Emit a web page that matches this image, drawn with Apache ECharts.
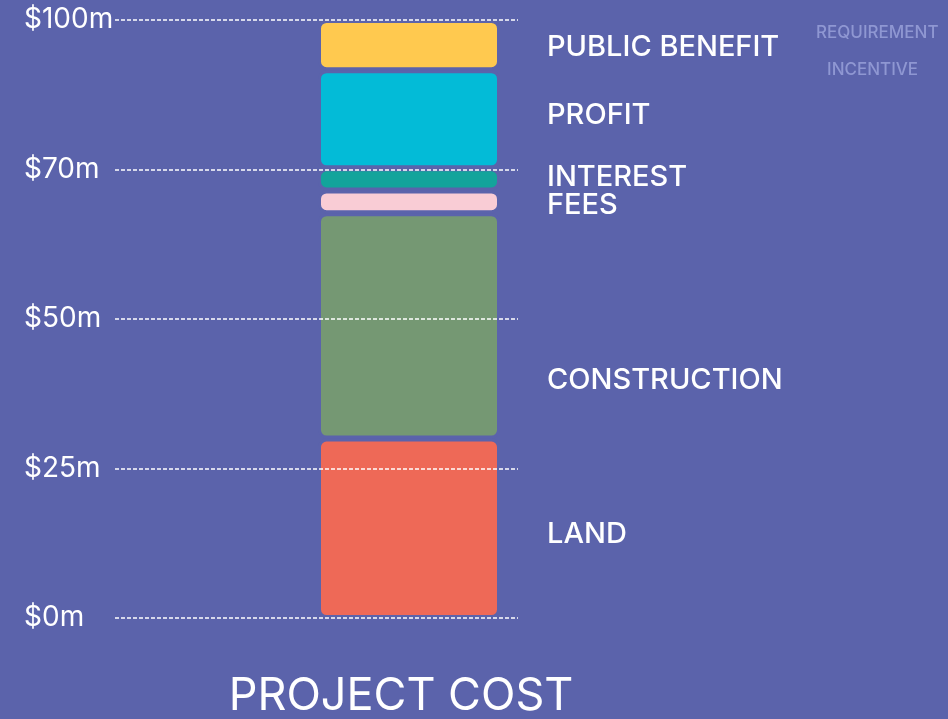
<!DOCTYPE html>
<html>
<head>
<meta charset="utf-8">
<style>
  html, body { margin: 0; padding: 0; background: #5b63ab; }
  #chart { width: 948px; height: 719px; }
</style>
<script src="https://cdn.jsdelivr.net/npm/echarts@6/dist/echarts.min.js"></script>
</head>
<body>
<div id="chart"></div>
<script>
// ---- data ----
// The reference axis has evenly spaced ticks; values are expressed in axis position units (0-100).
const categories = ['PROJECT COST'];
const segmentNames = ['LAND', 'CONSTRUCTION', 'FEES', 'INTEREST', 'PROFIT', 'PUBLIC BENEFIT'];
const segmentValues = [30, 37.7, 3.8, 3.7, 16.4, 8.4];
const yTickValues = [0, 25, 50, 75, 100];
const yTickLabels = ['$0m', '$25m', '$50m', '$70m', '$100m'];
const toggleLabels = ['REQUIREMENT', 'INCENTIVE'];

// ---- style ----
const BG = '#5b63ab';
const FONT = 'Inter';
const segmentColors = ['#ee6957', '#759873', '#f9ccd5', '#13a49b', '#03bbd7', '#ffc94f'];
const labelOffsets = [[0, 5.5], [0, 54.5], [0, 3.5], [0, -2.5], [0, -4], [0, 2.5]];

const chart = echarts.init(document.getElementById('chart'), null, { renderer: 'canvas' });

const series = segmentNames.map((name, i) => ({
  name: name,
  type: 'bar',
  stack: 'cost',
  xAxisIndex: 1,
  yAxisIndex: 1,
  barWidth: '100%',
  data: categories.map(() => segmentValues[i]),
  itemStyle: {
    color: segmentColors[i],
    borderColor: BG,
    borderWidth: 3,
    borderRadius: 7
  },
  label: {
    show: true,
    position: 'right',
    distance: 47,
    offset: labelOffsets[i],
    formatter: () => name,
    color: '#ffffff',
    fontFamily: FONT,
    fontSize: 29,
    fontWeight: 500
  },
  emphasis: { disabled: true },
  z: 2
}));

const option = {
  backgroundColor: BG,
  animation: false,
  grid: [
    { left: 115, right: 430, top: 20, bottom: 101 },
    { left: 318, right: 448, top: 20, bottom: 101 }
  ],
  xAxis: [
    { gridIndex: 0, type: 'category', data: [''], show: false },
    {
      gridIndex: 1, type: 'category', data: categories,
      axisLine: { show: false }, axisTick: { show: false },
      axisLabel: {
        color: '#ffffff', fontFamily: FONT, fontSize: 45, lineHeight: 46,
        margin: 55, padding: [0, 16, 0, 0]
      }
    }
  ],
  yAxis: [
    {
      gridIndex: 0, type: 'value', min: 0, max: 100, interval: 25, z: 10,
      axisLine: { show: false }, axisTick: { show: false },
      splitLine: { show: true, lineStyle: { color: '#ffffff', width: 1.5, type: [4, 2] } },
      axisLabel: {
        color: '#ffffff', fontFamily: FONT, fontSize: 28, align: 'left', margin: 91,
        padding: [5, 0, 0, 0],
        formatter: (v) => yTickLabels[yTickValues.indexOf(v)]
      }
    },
    { gridIndex: 1, type: 'value', min: 0, max: 100, show: false }
  ],
  series: series,
  graphic: [
    {
      type: 'text', left: 816, top: 24,
      style: { text: toggleLabels[0], fill: '#8f97d2', font: '500 17px ' + FONT }
    },
    {
      type: 'text', left: 827, top: 61,
      style: { text: toggleLabels[1], fill: '#8f97d2', font: '500 17px ' + FONT }
    }
  ]
};

chart.setOption(option);
</script>
</body>
</html>
